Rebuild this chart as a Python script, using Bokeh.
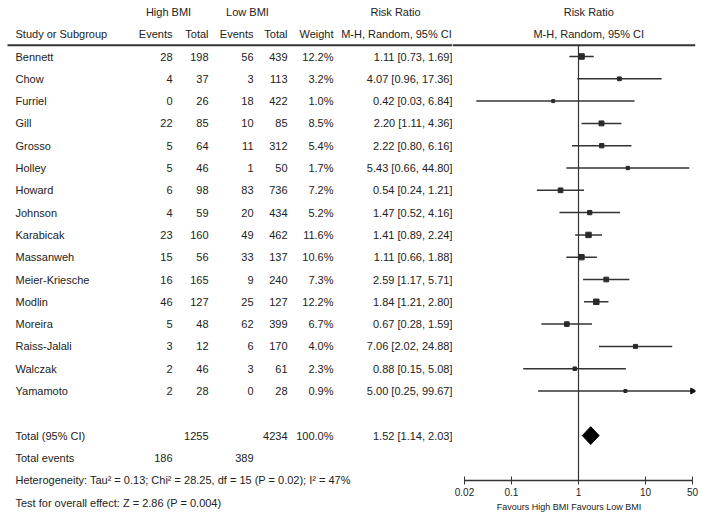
import math
from bokeh.plotting import figure
from bokeh.models import Range1d, ColumnDataSource, FixedTicker
from bokeh.layouts import row
from bokeh.embed import file_html
from bokeh.resources import INLINE
from bokeh.core.properties import value

# ---------------- data ----------------
studies = ["Bennett", "Chow", "Furriel", "Gill", "Grosso", "Holley", "Howard",
           "Johnson", "Karabicak", "Massanweh", "Meier-Kriesche", "Modlin",
           "Moreira", "Raiss-Jalali", "Walczak", "Yamamoto"]
high_events = [28, 4, 0, 22, 5, 5, 6, 4, 23, 15, 16, 46, 5, 3, 2, 2]
high_total = [198, 37, 26, 85, 64, 46, 98, 59, 160, 56, 165, 127, 48, 12, 46, 28]
low_events = [56, 3, 18, 10, 11, 1, 83, 20, 49, 33, 9, 25, 62, 6, 3, 0]
low_total = [439, 113, 422, 85, 312, 50, 736, 434, 462, 137, 240, 127, 399, 170, 61, 28]
weights = [12.2, 3.2, 1.0, 8.5, 5.4, 1.7, 7.2, 5.2, 11.6, 10.6, 7.3, 12.2, 6.7, 4.0, 2.3, 0.9]
rr = [1.11, 4.07, 0.42, 2.20, 2.22, 5.43, 0.54, 1.47, 1.41, 1.11, 2.59, 1.84, 0.67, 7.06, 0.88, 5.00]
ci_low = [0.73, 0.96, 0.03, 1.11, 0.80, 0.66, 0.24, 0.52, 0.89, 0.66, 1.17, 1.21, 0.28, 2.02, 0.15, 0.25]
ci_high = [1.69, 17.36, 6.84, 4.36, 6.16, 44.80, 1.21, 4.16, 2.24, 1.88, 5.71, 2.80, 1.59, 24.88, 5.08, 99.67]

total_high_n = 1255
total_low_n = 4234
total_weight = 100.0
total_rr = 1.52
total_low = 1.14
total_high = 2.03
total_high_events = 186
total_low_events = 389
heterogeneity = "Heterogeneity: Tau\u00b2 = 0.13; Chi\u00b2 = 28.25, df = 15 (P = 0.02); I\u00b2 = 47%"
overall = "Test for overall effect: Z = 2.86 (P = 0.004)"
tick_values = [0.02, 0.1, 1, 10, 50]
tick_labels = ["0.02", "0.1", "1", "10", "50"]
axis_text = "Favours High BMI     Favours Low BMI"

# ---------------- layout ----------------
FONT_NAME = "Liberation Sans"
FONT = value(FONT_NAME)
TXT = "#222222"
LINE = "#333333"
FS = "11px"

ROW0 = 56.0      # canvas y of first study row
STEP = 22.3      # row spacing in px
AXIS_Y = 480.0   # canvas y of forest axis
LEFT_W = 452
HEIGHT = 510
top = -ROW0 / STEP
left_bottom = top + HEIGHT / STEP
right_bottom = (AXIS_Y - ROW0) / STEP

n = len(studies)
ys = list(range(n))
y_total = n + 1
y_events = n + 2
y_het = n + 3
y_test = n + 4
y_head1 = -2
y_head2 = -1
y_rule = -0.5


def add_text(p, xs, yv, texts, align, size=FS):
    src = ColumnDataSource(dict(x=xs, y=yv, t=texts))
    p.text(x="x", y="y", text="t", source=src, text_align=align,
           text_baseline="middle", text_font=FONT, text_font_size=size,
           text_color=TXT)


# ---- left table figure (x in canvas pixels) ----
left = figure(frame_width=LEFT_W, frame_height=HEIGHT, x_range=Range1d(0, LEFT_W),
              y_range=Range1d(left_bottom, top), output_backend="svg",
              toolbar_location=None, x_axis_location=None, y_axis_location=None,
              min_border=0, outline_line_color=None)
left.grid.visible = False

C_E1, C_T1, C_E2, C_T2, C_W, C_CI = 172, 208, 253, 287, 333, 452

add_text(left, [168, 247, 395], [y_head1] * 3, ["High BMI", "Low BMI", "Risk Ratio"], "center")
add_text(left, [15], [y_head2], ["Study or Subgroup"], "left")
add_text(left, [C_E1, C_T1, C_E2, C_T2, C_W], [y_head2] * 5,
         ["Events", "Total", "Events", "Total", "Weight"], "right")
add_text(left, [396], [y_head2], ["M-H, Random, 95% CI"], "center")
left.segment(x0=[7], y0=[y_rule], x1=[LEFT_W], y1=[y_rule], line_color=LINE, line_width=2)

add_text(left, [15] * n, ys, studies, "left")
add_text(left, [C_E1] * n, ys, [str(v) for v in high_events], "right")
add_text(left, [C_T1] * n, ys, [str(v) for v in high_total], "right")
add_text(left, [C_E2] * n, ys, [str(v) for v in low_events], "right")
add_text(left, [C_T2] * n, ys, [str(v) for v in low_total], "right")
add_text(left, [C_W] * n, ys, [f"{w:.1f}%" for w in weights], "right")
add_text(left, [C_CI] * n, ys,
         [f"{a:.2f} [{b:.2f}, {c:.2f}]" for a, b, c in zip(rr, ci_low, ci_high)], "right")

add_text(left, [15], [y_total], ["Total (95% CI)"], "left")
add_text(left, [C_T1, C_T2, C_W], [y_total] * 3,
         [str(total_high_n), str(total_low_n), f"{total_weight:.1f}%"], "right")
add_text(left, [C_CI], [y_total], [f"{total_rr:.2f} [{total_low:.2f}, {total_high:.2f}]"], "right")
add_text(left, [15], [y_events], ["Total events"], "left")
add_text(left, [C_E1, C_E2], [y_events] * 2, [str(total_high_events), str(total_low_events)], "right")
add_text(left, [15], [y_het], [heterogeneity], "left")
add_text(left, [15], [y_test], [overall], "left")

# ---- right forest figure (log x) ----
FRAME_W = 243
P002 = 12       # px into frame for 0.02
P50 = 240       # px into frame for 50
dec = (P50 - P002) / (math.log10(50) - math.log10(0.02))
xs = 0.02 / 10 ** (P002 / dec)
xe = 50 * 10 ** ((FRAME_W - P50) / dec)

right = figure(frame_width=FRAME_W, frame_height=int(AXIS_Y), x_axis_type="log",
               x_range=Range1d(xs, xe), y_range=Range1d(right_bottom, top),
               output_backend="svg", toolbar_location=None, y_axis_location=None,
               min_border_left=0, min_border_right=4, min_border_top=0,
               min_border_bottom=0, outline_line_color=None)
right.grid.visible = False

hx = 10 ** (11 / 72)
add_text(right, [hx], [y_head1], ["Risk Ratio"], "center")
add_text(right, [hx], [y_head2], ["M-H, Random, 95% CI"], "center")
right.segment(x0=[xs], y0=[y_rule], x1=[xe], y1=[y_rule], line_color=LINE, line_width=2)

# line of no effect
right.segment(x0=[1], y0=[y_rule], x1=[1], y1=[right_bottom], line_color=LINE, line_width=1.2)

xmax = tick_values[-1]
seg_hi = [min(h, xmax) for h in ci_high]
right.segment(x0=ci_low, y0=ys, x1=seg_hi, y1=ys, line_color=LINE, line_width=1.5)
sizes = [2 + 3.5 * math.sqrt(w / max(weights)) for w in weights]
right.scatter(x=rr, y=ys, size=sizes, marker="square", color="#2a2a2a")
arrow_y = [y for y, h in zip(ys, ci_high) if h > xmax]
right.scatter(x=[xmax] * len(arrow_y), y=arrow_y, size=6, marker="triangle",
              angle=-math.pi / 2, color="#111111")

dh = 0.4
right.patch(x=[total_low, total_rr, total_high, total_rr],
            y=[y_total, y_total - dh, y_total, y_total + dh], color="black")

ax = right.xaxis[0]
ax.ticker = FixedTicker(ticks=tick_values)
ax.bounds = (tick_values[0], tick_values[-1])
ax.major_label_overrides = {v: s for v, s in zip(tick_values, tick_labels)}
ax.minor_tick_line_color = None
ax.major_tick_in = 4
ax.major_tick_out = 4
ax.axis_line_width = 1.5
ax.axis_line_color = LINE
ax.major_tick_line_color = LINE
ax.major_label_text_font = FONT_NAME
ax.major_label_text_font_size = "10px"
ax.major_label_text_color = TXT
ax.major_label_standoff = 3
ax.axis_label = axis_text
ax.axis_label_text_font = FONT_NAME
ax.axis_label_text_font_size = "9px"
ax.axis_label_text_font_style = "normal"
ax.axis_label_text_color = TXT
ax.axis_label_standoff = 3

layout = row(left, right)
open("out.html", "w").write(file_html(layout, INLINE))
